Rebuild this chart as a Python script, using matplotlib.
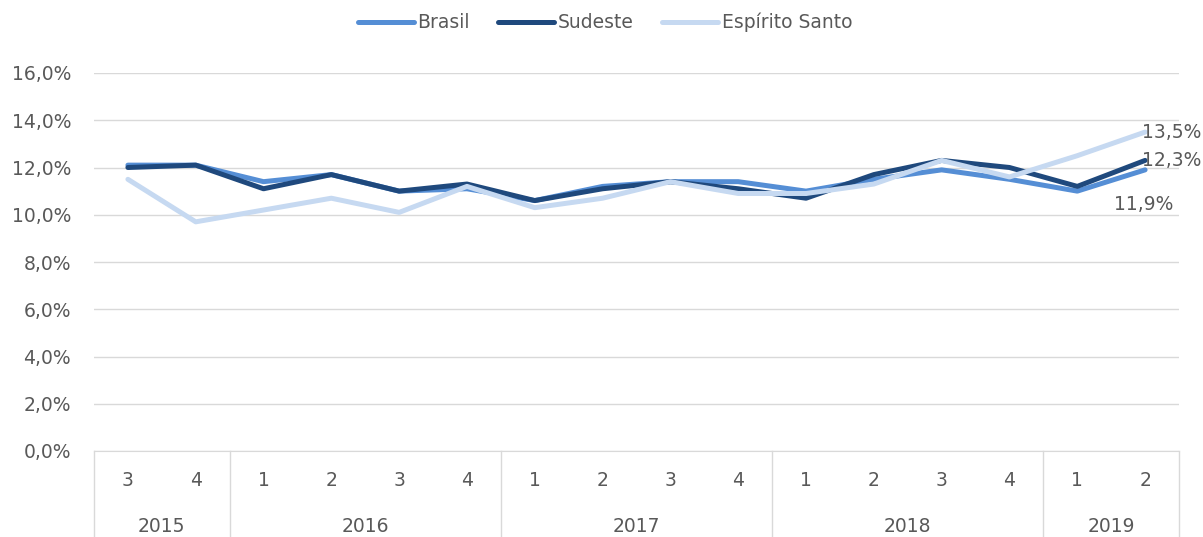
import matplotlib
matplotlib.use('Agg')
import matplotlib.pyplot as plt
from matplotlib.ticker import FuncFormatter
import matplotlib.transforms as mtransforms

plt.rcParams['font.family'] = ['DejaVu Sans']

# data (taxa, %)
quarters = ['3', '4', '1', '2', '3', '4', '1', '2', '3', '4', '1', '2', '3', '4', '1', '2']
years = ['2015', '2016', '2017', '2018', '2019']
year_counts = [2, 4, 4, 4, 2]
brasil = [12.1, 12.1, 11.4, 11.7, 11.0, 11.1, 10.6, 11.2, 11.4, 11.4, 11.0, 11.5, 11.9, 11.5, 11.0, 11.9]
sudeste = [12.0, 12.1, 11.1, 11.7, 11.0, 11.3, 10.6, 11.1, 11.4, 11.1, 10.7, 11.7, 12.3, 12.0, 11.2, 12.3]
es = [11.5, 9.7, 10.2, 10.7, 10.1, 11.2, 10.3, 10.7, 11.4, 10.9, 10.9, 11.3, 12.3, 11.6, 12.5, 13.5]

txt_col = '#595959'
grid_col = '#D9D9D9'
fs = 13.5

fig = plt.figure(figsize=(12.03, 5.37), dpi=100)
ax = fig.add_axes([94/1203, 86/537, (1179-94)/1203, (451-73)/537])

x = list(range(len(quarters)))
ax.plot(x, brasil, color='#558ED5', lw=3.6, label='Brasil', solid_capstyle='round', zorder=3)
ax.plot(x, sudeste, color='#1F497D', lw=3.6, label='Sudeste', solid_capstyle='round', zorder=4)
ax.plot(x, es, color='#C6D9F1', lw=3.6, label='Espírito Santo', solid_capstyle='round', zorder=5)

ax.set_xlim(-0.5, len(quarters) - 0.5)
ax.set_ylim(0, 16)
ax.set_yticks([0, 2, 4, 6, 8, 10, 12, 14, 16])
ax.yaxis.set_major_formatter(FuncFormatter(lambda v, p: f'{v:.1f}%'.replace('.', ',')))
ax.grid(axis='y', color=grid_col, lw=1)
ax.set_axisbelow(True)
for s in ['top', 'right', 'left']:
    ax.spines[s].set_visible(False)
ax.spines['bottom'].set_color(grid_col)
ax.tick_params(axis='y', length=0, labelsize=fs, labelcolor=txt_col, pad=16.5)
ax.set_xticks([])

# data labels at the last point
n = len(quarters) - 1
fmt = lambda v: f'{v:.1f}%'.replace('.', ',')
ax.annotate(fmt(es[n]), (n, es[n]), xytext=(-2, 0), textcoords='offset points',
            ha='left', va='center', fontsize=fs, color=txt_col, zorder=6)
ax.annotate(fmt(sudeste[n]), (n, sudeste[n]), xytext=(-2, 0), textcoords='offset points',
            ha='left', va='center', fontsize=fs, color=txt_col, zorder=6)
ax.annotate(fmt(brasil[n]), (n, brasil[n]), xytext=(-1, -18), textcoords='offset points',
            ha='center', va='top', fontsize=fs, color=txt_col, zorder=6)

# two-level category axis
trans = mtransforms.blended_transform_factory(ax.transData, ax.transAxes)
bot = -86/378
for i, q in enumerate(quarters):
    ax.text(i, -30/378, q, transform=trans, ha='center', va='center', fontsize=fs, color=txt_col)
start = 0
bounds = [-0.5]
for y, c in zip(years, year_counts):
    mid = start + (c - 1) / 2
    ax.text(mid, -76/378, y, transform=trans, ha='center', va='center', fontsize=fs, color=txt_col)
    start += c
    bounds.append(start - 0.5)
for b in bounds:
    ax.plot([b, b], [0, bot], transform=trans, color=grid_col, lw=1, clip_on=False)

leg = fig.legend(loc='upper center', bbox_to_anchor=(0.503, 1.008), ncol=3, frameon=False,
                 fontsize=fs, handlelength=3.0, handletextpad=0.2, columnspacing=1.5)
for t in leg.get_texts():
    t.set_color(txt_col)

fig.savefig('out.png', dpi=100)
